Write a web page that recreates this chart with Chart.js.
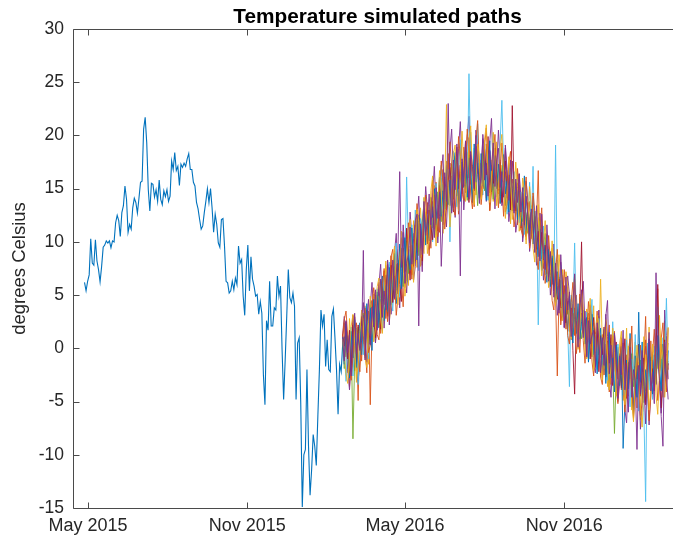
<!DOCTYPE html>
<html>
<head>
<meta charset="utf-8">
<script src="https://cdn.jsdelivr.net/npm/chart.js@4.4.1/dist/chart.umd.min.js"></script>
<style>
  html, body { margin: 0; padding: 0; background: #fff; overflow: hidden; width: 673px; height: 542px; }
  #wrap { width: 690px; height: 542px; position: absolute; left: 0; top: 0; }
  #c { width: 690px; height: 542px; display: block; }
</style>
</head>
<body>
<div id="wrap"><canvas id="c" width="690" height="542"></canvas></div>
<script>
// ---------- DATA (x in days since 1 May 2015) ----------
const chartTitle = 'Temperature simulated paths';
const yLabel     = 'degrees Celsius';
const tickDays   = [0, 184, 366, 550];
const tickLabels = ['May 2015', 'Nov 2015', 'May 2016', 'Nov 2016'];

// historical observed temperature, evenly spaced from histStartDay to histEndDay
const histStartDay = -4;   // 27 Apr 2015
const histEndDay   = 296;  // 21 Feb 2016
const histTemps = [
  6.2, 5.4, 6.3, 6.9, 10.3, 8.0, 7.8, 10.2, 8.2, 7.4,
  6.25, 7.7, 9.5, 9.7, 10.1, 9.9, 10.1, 9.45, 10.1, 10.0,
  11.8, 12.5, 12.0, 10.5, 12.75, 13.4, 15.25, 14.0, 10.9, 11.65,
  11.2, 13.2, 14.1, 13.7, 12.7, 14.1, 15.6, 15.7, 20.6, 21.7,
  19.3, 14.9, 12.9, 15.5, 15.4, 14.2, 14.9, 13.8, 15.8, 14.0,
  13.5, 14.8, 14.25, 14.9, 13.8, 14.3, 17.6, 16.8, 18.4, 16.7,
  17.1, 15.3, 17.3, 17.0, 17.4, 17.1, 17.8, 18.3, 16.8, 16.8,
  15.6, 15.25, 13.7, 13.1, 12.1, 11.2, 11.5, 12.75, 13.8, 15.0,
  13.7, 15.0, 13.2, 10.9, 12.6, 11.65, 9.9, 9.5, 12.1, 12.2,
  9.6, 6.3, 6.15, 5.2, 5.4, 6.3, 5.5, 6.6, 6.0, 9.6,
  8.0, 8.35, 4.9, 3.1, 7.4, 9.7, 5.4, 8.6, 6.5, 5.85,
  4.9, 5.05, 3.2, 4.4, 3.3, -2.5, -5.3, 2.6, 1.7, 6.3,
  2.1, 2.1, 3.8, 3.6, 6.8, 4.9, 5.85, -0.1, -4.8, -1.1,
  3.0, 7.4, 4.75, 4.3, 5.2, 3.95, -4.8, 0.5, 1.0, -5.1,
  -14.9, -10.0, -9.5, -2.0, -9.2, -13.8, -11.4, -8.1, -9.2, -11.0,
  -6.4, -2.0, 3.6, 2.1, 3.2, -1.7, 0.8, -2.0, -2.2, 3.0,
  3.7, 1.0, -2.0, -6.2, -1.5, -2.2, 0.5, 1.1
];

// simulated paths, one value every simStepDays days from simStartDay
const simStartDay = 294;   // 19 Feb 2016
const simStepDays = 2;

const simPath1 = [
  0.9, 2.4, -0.8, 1.2, -3.6, -1.0, 2.2, -2.1, 0.6, -4.9,
  1.8, -1.2, 2.9, 0.1, -2.3, 3.5, -5.3, 1.7, 4.8, 0.6,
  3.1, 6.2, 1.4, 4.4, 7.5, 2.8, 5.6, 3.0, 8.7, 5.2,
  4.6, 7.9, 5.1, 9.6, 6.3, 3.9, 8.4, 11.2, 7.0, 9.3,
  6.5, 10.8, 8.2, 12.4, 9.1, 11.0, 7.8, 12.9, 10.3, 13.7,
  12.0, 9.4, 13.8, 11.2, 15.6, 12.7, 10.9, 14.6, 16.8, 12.5,
  15.1, 18.3, 13.4, 16.2, 14.0, 17.6, 15.3, 12.6, 17.9, 15.8,
  18.9, 14.6, 16.5, 19.8, 15.4, 17.2, 13.3, 16.9, 18.6, 15.1,
  14.2, 17.8, 15.9, 19.2, 16.1, 13.0, 17.4, 14.9, 18.8, 16.3,
  14.5, 17.7, 15.2, 12.4, 16.6, 14.8, 17.3, 13.5, 15.9, 12.9,
  14.7, 11.6, 15.3, 13.2, 10.4, 14.1, 12.2, 10.9, 13.8, 11.3,
  12.5, 9.1, 11.9, 16.7, 8.4, 10.6, 7.5, 9.9, 8.1, 6.7,
  8.9, 6.0, 7.7, 4.9, -2.6, 5.2, 2.6, 6.9, 4.4, 1.8,
  4.7, 2.3, 0.8, 3.9, 1.2, 5.0, 2.0, -0.4, 3.3, 1.5,
  2.8, -0.7, 1.9, 4.1, 0.2, 2.4, -1.8, 1.0, 3.0, -0.9,
  1.3, -2.5, 0.4, -1.1, 2.2, -3.4, -0.3, 1.6, -2.0, 0.1,
  -1.4, -3.9, 0.5, -2.7, -0.6, -4.5, -1.8, 2.1, -3.0, -0.8,
  -5.6, -2.2, 0.3, -3.5, -1.0, 3.0, -4.2, -2.6, 0.7, -3.3,
  -1.2, 1.5, 5.6, -2.4, 0.4, -3.1, 2.6, -0.5, -2.0
];
const simPath2 = [
  1.2, -0.4, 1.9, -2.3, 2.8, 0.1, -1.7, 3.0, -3.2, 1.5,
  -0.8, 2.6, 0.4, 4.0, 1.1, -1.5, 3.4, 2.2, 5.1, 0.9,
  4.2, 2.0, 6.3, 3.7, 5.0, 8.2, 3.3, 6.1, 4.8, 7.4,
  5.7, 9.1, 6.6, 4.4, 8.7, 7.1, 10.2, 8.0, 5.9, 9.6,
  8.4, 12.0, 9.7, 7.6, 11.4, 13.2, 10.0, 8.9, 12.8, 11.1,
  13.5, 10.7, 12.6, 15.3, 11.8, 14.4, 12.0, 16.0, 13.7, 15.1,
  22.9, 14.6, 17.0, 13.9, 15.8, 18.1, 14.2, 16.9, 19.3, 15.5,
  17.6, 14.8, 18.4, 16.0, 20.3, 15.7, 17.1, 14.4, 18.7, 16.6,
  15.3, 19.0, 16.4, 14.1, 18.0, 15.6, 17.7, 13.8, 16.2, 19.4,
  15.0, 13.6, 17.2, 15.4, 18.6, 13.1, 16.0, 11.7, 15.5, 14.2,
  12.6, 16.3, 13.0, 11.1, 14.5, 12.9, 9.8, 13.6, 11.4, 10.3,
  13.1, 10.0, 8.8, 12.3, 9.5, 11.6, 8.0, 10.4, 7.2, 9.0,
  6.6, 9.4, 7.5, 5.5, 8.3, 6.1, 4.0, 7.4, 5.0, 3.1,
  5.8, 2.4, 4.6, 1.3, 6.5, 3.0, 0.7, 4.3, 2.1, 3.6,
  1.0, 3.7, -0.5, 2.6, 0.2, 4.0, -1.3, 1.8, -0.6, 6.5,
  0.4, -1.9, 2.3, -3.6, -0.4, 1.0, -2.8, 0.5, -4.4, -1.0,
  -2.2, 0.8, -4.9, -1.5, 1.9, -3.3, -0.7, -5.8, -2.0, 0.6,
  -3.9, -1.3, -6.7, -2.4, 1.1, -4.0, -1.6, 2.0, -2.9, -0.4,
  -3.5, 0.9, -1.9, 3.1, -0.3, -4.6, 1.7, -2.2, 0.5
];
const simPath3 = [
  1.2, 3.0, 0.6, -2.0, -3.9, -1.1, 1.7, 2.9, -0.4, -3.1,
  -1.0, 2.8, 4.3, 1.6, -1.3, 0.8, 4.0, 6.2, 3.0, 0.5,
  2.3, 6.0, 7.9, 4.1, 1.9, 4.4, 8.3, 7.0, 3.2, 5.1,
  9.0, 10.8, 6.5, 3.8, 7.2, 11.6, 9.3, 5.2, 8.4, 12.8,
  10.6, 6.4, 7.7, 12.0, 14.3, 10.1, 7.2, 11.8, 15.2, 13.0,
  9.3, 10.2, 14.6, 17.1, 13.0, 9.9, 12.4, 16.6, 18.2, 13.3,
  11.4, 15.0, 18.7, 20.6, 16.0, 12.3, 14.9, 18.8, 21.3, 17.4,
  13.0, 15.4, 19.9, 21.8, 17.6, 13.7, 16.0, 20.5, 18.9, 14.5,
  15.8, 20.1, 18.2, 13.8, 15.0, 19.4, 21.6, 16.5, 13.1, 16.9,
  20.5, 17.8, 13.4, 14.7, 18.8, 16.1, 11.9, 13.5, 17.6, 15.0,
  10.9, 12.1, 16.4, 14.2, 10.0, 11.5, 15.7, 13.9, 9.1, 10.7,
  14.3, 11.7, 7.8, 9.6, 12.7, 10.2, 6.4, 8.0, 11.6, 9.1,
  5.0, 6.6, 9.8, 7.2, 3.1, 4.8, 8.1, 6.0, 1.9, 3.4,
  6.8, 5.1, 1.2, 2.5, 6.0, 4.4, 0.2, 1.1, 4.9, 6.3,
  2.1, -0.9, 0.7, 4.0, 3.0, -1.6, -2.3, 1.7, 3.6, 0.2,
  -2.8, -0.7, 3.2, 1.1, -2.9, -4.6, -1.0, 1.4, -1.9, -5.0,
  -3.3, 0.1, -1.8, -5.7, -7.0, -2.7, 0.5, -2.5, -5.9, -3.6,
  -0.4, -3.1, -7.6, -5.4, -1.6, 0.2, -3.8, -7.2, -4.1, -1.1,
  -3.5, 0.7, 2.9, -2.6, -6.1, -3.3, 3.6, 1.2, -2.9
];
const simPath4 = [
  0.8, -1.9, 1.4, -0.3, -2.5, 1.0, -8.5, -1.2, 0.9, 2.0,
  -0.5, 1.7, 3.3, -0.9, 2.4, 0.5, 4.1, 1.8, 2.9, 5.0,
  2.2, 4.9, 3.1, 6.0, 2.9, 4.5, 7.2, 4.0, 6.4, 5.1,
  7.7, 5.0, 8.3, 6.2, 9.4, 5.8, 7.9, 10.1, 7.1, 8.5,
  10.7, 8.0, 9.9, 12.1, 8.7, 11.5, 9.6, 13.0, 11.0, 10.2,
  12.4, 14.1, 11.3, 13.0, 10.6, 14.7, 13.3, 11.9, 15.4, 14.0,
  13.2, 16.0, 14.8, 17.3, 14.1, 15.5, 17.9, 13.6, 16.4, 15.0,
  17.0, 15.8, 13.9, 18.2, 16.7, 14.5, 17.5, 15.9, 13.4, 17.8,
  16.0, 18.4, 14.8, 16.6, 15.1, 17.9, 16.3, 14.0, 17.1, 15.7,
  16.8, 14.3, 15.9, 17.6, 13.4, 16.2, 14.6, 15.1, 12.9, 15.8,
  13.6, 15.2, 12.4, 14.0, 11.9, 13.3, 12.6, 10.8, 12.1, 13.4,
  10.5, 11.8, 9.6, 10.9, 12.0, 8.9, 9.7, 10.8, 7.7, 8.3,
  7.9, 6.4, 8.6, 7.0, 5.1, 6.7, 5.6, 3.7, 4.9, 4.2,
  3.2, 4.5, 2.0, 3.9, 2.7, 1.5, 3.4, 2.2, 0.9, 2.6,
  1.6, 0.3, 2.9, 1.1, -0.8, 1.9, 0.5, -1.5, 1.3, 0.0,
  -1.1, 0.9, -2.3, -0.7, -3.9, 0.1, -1.6, -8.0, -2.5, -0.4,
  -1.9, -3.1, -0.6, -2.8, -4.2, -1.3, -2.9, -0.5, -3.6, -2.0,
  -4.3, -2.5, -1.1, -3.8, -2.2, -5.0, -1.4, -3.1, -0.8, -2.6,
  -1.7, -3.3, -0.4, -2.5, -1.0, -2.9, 0.2, -1.8, -1.2
];
const simPath5 = [
  1.0, -0.2, -3.1, 0.7, -1.4, 2.0, -2.6, 0.2, 1.9, -3.4,
  0.5, 2.1, -0.6, 3.9, 1.3, -1.0, 2.8, 4.4, 0.7, 3.2,
  5.6, 2.4, 4.0, 1.6, 6.7, 3.8, 5.3, 8.1, 4.9, 3.5,
  7.2, 9.9, 6.0, 4.8, 8.6, 10.6, 7.5, 16.1, 9.8, 8.0,
  11.6, 8.9, 13.0, 9.5, 7.3, 12.2, 10.8, 14.1, 10.0, 12.6,
  11.0, 13.8, 10.0, 12.9, 15.5, 11.4, 14.0, 17.2, 12.7, 15.9,
  14.6, 16.8, 10.0, 15.7, 18.5, 16.2, 13.3, 17.0, 19.6, 14.9,
  16.4, 19.0, 15.2, 25.8, 17.3, 14.9, 18.8, 16.0, 21.1, 15.3,
  17.7, 14.4, 19.3, 16.6, 13.9, 18.5, 15.4, 20.2, 16.9, 14.2,
  16.0, 19.4, 23.3, 17.0, 15.3, 12.6, 17.4, 15.9, 13.8, 16.6,
  13.1, 15.9, 11.8, 14.7, 13.0, 10.7, 14.2, 12.0, 15.6, 11.5,
  17.1, 9.4, 12.6, 2.2, 10.3, 8.4, 11.5, 6.9, 9.6, 7.6,
  7.1, 8.0, 5.9, 19.1, 6.3, 4.5, 7.8, 2.7, 5.6, 3.8,
  1.9, -3.6, 5.0, 3.3, 9.9, 2.4, 0.3, 4.8, 1.7, 3.5,
  0.6, 3.4, -1.2, 2.1, 4.6, -0.3, 1.5, -2.0, 2.8, 0.1,
  -1.5, 1.8, -0.8, -3.0, 0.9, -2.2, 2.5, -1.3, -4.0, 0.4,
  -2.7, -0.3, -4.4, -1.6, 0.8, -3.2, -5.5, -1.0, -2.4, 1.3,
  -3.0, -5.9, -1.7, -4.6, -6.0, -14.4, 0.5, -3.9, -1.2, -4.8,
  0.2, -2.6, 3.9, -1.4, -3.8, 1.0, -0.9, 4.7, -1.6
];
const simPath6 = [
  1.3, 0.2, 2.5, -1.0, 1.7, -2.2, 3.1, 0.3, -1.5, 2.2,
  0.0, 3.0, 1.2, -0.7, 3.6, 2.0, 0.4, 4.5, 2.6, 1.0,
  5.0, 3.4, 1.8, 5.8, 4.1, 6.9, 3.0, 5.5, 7.8, 4.3,
  6.8, 5.2, 8.0, 6.0, 4.4, 9.4, 7.2, 11.3, 8.6, 6.4,
  9.7, 7.7, 11.6, 9.0, 12.3, 10.4, 8.2, 13.2, 11.7, 9.8,
  13.0, 11.5, 10.2, 14.4, 12.6, 11.0, 15.3, 13.4, 11.6, 16.1,
  13.0, 15.6, 17.4, 14.3, 12.8, 16.6, 18.9, 15.0, 17.2, 14.5,
  16.9, 19.4, 15.6, 13.7, 18.2, 16.1, 14.8, 19.0, 17.0, 15.8,
  17.4, 15.0, 18.7, 16.3, 19.9, 14.6, 17.2, 15.5, 18.1, 16.0,
  14.8, 17.5, 13.7, 15.8, 17.6, 14.1, 16.3, 13.0, 22.8, 14.9,
  12.9, 15.5, 13.8, 11.3, 14.6, 12.1, 10.5, 13.7, 11.0, 12.8,
  10.2, 12.4, 9.3, 11.0, 8.7, 10.9, 8.3, 9.7, 7.0, 8.8,
  6.9, 8.5, 5.4, 7.3, 4.6, 6.5, 3.8, 3.9, 5.9, 2.4,
  4.4, 1.6, 3.8, -0.2, -4.3, 2.9, 1.1, 4.0, 10.0, 1.4,
  2.7, 0.8, 3.3, -1.0, 1.6, 2.9, -0.4, 2.0, -2.2, 1.2,
  -0.6, 2.0, -2.7, 0.7, -1.4, 1.3, -3.5, -0.8, 0.6, -2.9,
  -0.5, -3.7, -1.6, 0.9, -4.7, -2.4, -0.1, -3.4, -6.2, -1.7,
  -2.9, 0.4, -4.5, -2.3, -0.9, -5.3, -2.7, 0.6, -3.5, -1.9,
  -4.0, -0.4, 6.0, -2.8, -5.6, -1.1, 0.8, -3.6, -1.4
];
const simPath7 = [
  1.1, -1.5, 2.3, 0.4, -2.8, 1.6, -0.9, 2.7, -1.8, 0.3,
  2.4, -0.6, 3.1, 0.8, 4.2, 1.5, 3.8, -0.2, 4.6, 2.1,
  5.3, 1.9, 4.7, 6.8, 2.6, 5.9, 3.4, 7.6, 4.1, 6.5,
  8.9, 4.2, 7.3, 9.8, 5.6, 8.1, 10.4, 6.2, 9.0, 7.4,
  11.3, 7.9, 10.6, 8.3, 12.5, 9.4, 11.8, 13.6, 9.7, 12.2,
  10.1, 14.2, 12.3, 15.0, 11.6, 13.9, 16.1, 12.4, 14.8, 13.1,
  17.2, 13.5, 15.8, 12.9, 16.7, 18.4, 14.3, 16.0, 13.8, 17.5,
  15.1, 18.6, 14.2, 17.9, 16.3, 13.7, 19.2, 15.6, 17.4, 14.1,
  18.3, 15.2, 17.6, 13.9, 16.8, 19.5, 14.7, 16.2, 18.1, 15.0,
  17.3, 13.6, 16.4, 18.2, 14.5, 15.7, 12.8, 16.9, 14.0, 13.2,
  15.6, 12.1, 14.8, 11.5, 13.9, 16.2, 11.0, 13.4, 10.6, 12.7,
  9.8, 12.9, 10.4, 8.6, 11.2, 7.3, 10.1, 8.4, 6.2, 9.3,
  5.8, 8.7, 6.1, 4.3, 7.2, 3.6, 6.4, 2.9, 5.1, 3.3,
  1.6, 4.9, 2.7, 0.5, 3.8, 1.4, 4.2, 0.9, 2.5, 3.6,
  0.4, 2.9, -1.3, 1.7, 3.2, -0.6, 1.1, -2.4, 0.8, 1.9,
  -2.1, 0.6, -3.3, -0.2, 1.5, -2.8, -0.9, -4.1, 0.3, -1.6,
  -3.5, 0.2, -9.4, -5.2, -1.1, -3.8, 1.4, -2.3, -6.4, -0.7,
  -4.6, 3.4, -3.2, 0.6, -5.1, -2.0, -3.7, 0.9, -2.5, -4.3,
  -0.6, -3.4, 1.2, -2.2, -4.0, 0.4, -1.5, -3.1, -0.2
];
const simPath8 = [
  1.0, 2.7, 3.5, 1.1, -1.9, -3.0, -0.7, 1.8, 2.4, -1.1,
  -2.2, 0.9, 2.6, 3.8, 2.0, -0.4, 0.3, 3.9, 5.7, 4.2,
  1.3, 0.8, 3.5, 6.1, 7.3, 4.6, 2.5, 5.2, 8.6, 9.3,
  6.6, 3.1, 4.8, 8.2, 10.4, 9.1, 5.7, 7.3, 11.8, 10.2,
  6.9, 7.8, 11.4, 13.6, 12.0, 8.5, 9.1, 12.7, 14.4, 10.9,
  8.7, 12.3, 15.8, 14.0, 11.1, 10.5, 14.9, 17.6, 15.3, 11.2,
  13.0, 16.8, 19.4, 17.1, 13.2, 12.5, 16.1, 19.9, 18.0, 14.6,
  13.9, 17.5, 20.6, 18.2, 14.4, 13.1, 16.8, 19.6, 21.4, 17.0,
  13.5, 15.2, 19.0, 20.7, 16.4, 12.9, 14.6, 18.3, 20.1, 15.9,
  13.2, 16.5, 19.3, 17.0, 12.8, 13.6, 17.4, 18.5, 14.1, 11.4,
  12.7, 16.9, 15.0, 11.2, 10.6, 14.3, 16.1, 12.5, 9.4, 10.8,
  14.6, 12.8, 8.7, 7.4, 11.0, 13.2, 9.0, 6.1, 7.9, 10.6,
  8.2, 4.5, 3.6, 7.1, 9.3, 5.8, 2.2, 3.9, 7.4, 5.0,
  1.2, 0.4, 4.3, 6.2, 3.4, -0.5, 1.0, 5.1, 4.0, 0.7,
  -1.4, 1.6, 4.4, 2.3, -1.2, -2.6, 1.3, 3.5, 0.6, -2.7,
  -3.4, 0.2, 2.5, -0.6, -4.1, -2.3, 1.2, 0.0, -3.8, -5.2,
  -1.5, 1.0, -2.9, -6.0, -4.3, -0.2, 0.9, -3.2, -6.6, -4.0,
  -0.9, -2.7, -6.3, -5.1, -1.4, 0.8, -2.9, -6.8, -4.6, -0.5,
  1.8, -1.6, -4.9, -3.0, 0.9, 2.4, -2.0, -4.1, 1.9
];
const simPath9 = [
  0.9, -0.6, -2.4, -3.3, -0.8, 2.1, 3.2, 0.4, -2.9, -1.6,
  1.5, 3.6, 2.2, -0.9, -1.8, 2.4, 4.9, 3.1, 0.6, 1.9,
  5.8, 6.6, 2.9, 1.4, 4.7, 7.8, 6.3, 2.6, 3.9, 8.1,
  9.6, 5.5, 4.1, 7.9, 11.0, 8.7, 4.9, 6.4, 10.3, 12.1,
  8.6, 6.2, 9.8, 13.1, 11.9, 7.7, 10.0, 14.2, 12.6, 8.9,
  10.4, 14.8, 16.2, 12.1, 9.6, 13.4, 16.7, 14.5, 10.8, 12.9,
  17.6, 15.2, 11.4, 13.8, 18.3, 19.1, 14.7, 12.9, 16.5, 20.4,
  17.3, 13.8, 15.6, 19.5, 20.9, 16.2, 13.5, 15.8, 19.2, 18.1,
  14.0, 15.3, 19.6, 21.0, 16.8, 13.7, 16.1, 20.3, 17.5, 13.4,
  14.9, 18.9, 20.1, 15.7, 12.2, 14.6, 18.0, 16.4, 12.1, 13.9,
  17.5, 15.1, 11.0, 12.4, 16.0, 14.8, 10.2, 11.7, 15.2, 13.3,
  9.4, 8.1, 12.2, 13.5, 9.2, 6.8, 9.9, 12.0, 8.5, 5.7,
  7.3, 10.1, 7.9, 4.0, 5.2, 8.8, 6.7, 2.6, 3.5, 7.2,
  5.9, 1.8, 0.9, 4.6, 6.9, 3.2, -0.1, 2.0, 5.4, 3.7,
  -0.2, -1.0, 2.8, 4.7, 1.4, -2.1, -0.4, 3.1, 2.4, -1.5,
  -3.0, 0.6, 2.7, -0.8, -3.9, -1.7, 1.9, -0.3, -4.5, -3.4,
  0.4, 1.6, -2.4, -5.3, -3.0, 0.2, -1.2, -5.1, -6.9, -2.6,
  0.3, -1.9, -5.5, -7.4, -3.3, -0.6, -2.2, -5.8, -3.7, 0.4,
  -0.8, -4.4, -6.2, -2.1, 1.0, -0.9, -4.6, -2.8, 2.0
];
const simPath10 = [
  1.1, -1.2, 2.6, -0.4, 1.3, -2.6, 0.8, 3.3, -0.5, 1.4,
  -0.2, 0.7, 9.2, -1.1, 2.8, 4.6, 0.3, 3.9, 2.0, 5.5,
  1.7, 4.3, 6.5, 2.9, 5.4, 3.6, 7.9, 2.2, 6.0, 8.3,
  4.7, 6.9, 9.4, 16.6, 7.6, 10.9, 6.1, 8.0, 8.8, 11.4,
  7.9, 10.3, 12.0, 12.6, 2.1, 11.7, 8.8, 13.8, 10.6, 12.1,
  14.5, 11.6, 13.3, 10.4, 15.1, 12.2, 14.7, 7.7, 11.9, 16.5,
  13.8, 23.0, 15.4, 12.7, 17.7, 14.9, 19.2, 16.1, 6.8, 17.8,
  15.2, 19.5, 16.4, 14.0, 18.5, 17.1, 15.0, 20.0, 16.3, 13.6,
  16.9, 19.7, 15.8, 17.4, 14.3, 18.6, 16.7, 19.3, 15.2, 17.7,
  18.8, 15.1, 16.6, 14.2, 19.1, 16.8, 13.9, 17.7, 15.0, 12.7,
  15.9, 13.7, 16.4, 12.8, 15.1, 11.6, 14.3, 12.4, 9.9, 13.1,
  11.3, 9.0, 13.4, 10.1, 8.2, 12.6, 9.1, 7.4, 10.7, 6.3,
  9.1, 7.0, 4.8, 8.0, 5.9, 3.3, 8.8, 5.4, 2.0, 6.7,
  3.6, 5.3, 1.1, 4.2, 7.0, 2.6, 0.1, 3.8, 5.5, 1.0,
  3.5, -0.8, 2.6, 0.4, 1.2, 1.7, -1.7, 2.4, 0.9, -2.3,
  1.0, -1.6, 3.0, 4.5, -2.4, 0.3, -3.2, 1.4, -1.0, -4.7,
  -0.7, -2.5, 1.7, -3.9, -1.4, -6.0, 0.1, -4.6, -2.0, -3.0,
  -9.5, -1.6, -4.3, -0.2, -3.6, -7.1, -1.8, 1.5, -4.0, -2.2,
  -5.2, 7.1, -0.9, -3.0, -6.4, -9.2, 0.6, -2.5, -4.8
];

const simPaths  = [simPath1, simPath2, simPath3, simPath4, simPath5,
                   simPath6, simPath7, simPath8, simPath9, simPath10];
const simColors = ['#D95319', '#EDB120', '#7E2F8E', '#77AC30', '#4DBEEE',
                   '#A2142F', '#0072BD', '#D95319', '#EDB120', '#7E2F8E'];
const histColor = '#0072BD';

// ---------- CHART ----------
const FONT = "'Liberation Sans', Arial, Helvetica, sans-serif";
Chart.defaults.font.family = FONT;
Chart.defaults.color = '#262626';

const histStep = (histEndDay - histStartDay) / (histTemps.length - 1);
const datasets = [{
  data: histTemps.map((v, i) => ({ x: histStartDay + i * histStep, y: v })),
  borderColor: histColor, borderWidth: 1.1, order: 0
}];
simPaths.forEach((p, k) => {
  datasets.push({
    data: p.map((v, i) => ({ x: simStartDay + i * simStepDays, y: v })),
    borderColor: simColors[k], borderWidth: 0.9, order: -(k + 1)
  });
});
datasets.forEach(d => { d.pointRadius = 0; d.tension = 0; d.fill = false; });

// MATLAB-style axes: left/top/bottom lines with inward ticks (right side lies beyond the picture)
const axesBox = {
  id: 'axesBox',
  afterDatasetsDraw(chart) {
    const { ctx, chartArea: a, scales: { x, y } } = chart;
    const L = Math.round(a.left) + 0.5, R = Math.round(a.right) + 0.5;
    const T = Math.round(a.top) + 0.5, B = Math.round(a.bottom) + 0.5;
    const tl = 6;
    ctx.save();
    ctx.strokeStyle = '#4a4a4a';
    ctx.lineWidth = 1;
    ctx.beginPath();
    ctx.moveTo(R, T); ctx.lineTo(L, T); ctx.lineTo(L, B); ctx.lineTo(R, B);
    y.ticks.forEach(t => {
      const py = Math.round(y.getPixelForValue(t.value)) + 0.5;
      ctx.moveTo(L, py); ctx.lineTo(L + tl, py);
    });
    x.ticks.forEach(t => {
      const px = Math.round(x.getPixelForValue(t.value)) + 0.5;
      ctx.moveTo(px, B); ctx.lineTo(px, B - tl);
      ctx.moveTo(px, T); ctx.lineTo(px, T + tl);
    });
    ctx.stroke();
    // title centred over the axes box
    ctx.fillStyle = '#000';
    ctx.font = 'bold 20.8px ' + FONT;
    ctx.textAlign = 'center';
    ctx.textBaseline = 'alphabetic';
    ctx.fillText(chartTitle, (a.left + a.right) / 2, 23);
    ctx.restore();
  }
};

new Chart(document.getElementById('c'), {
  type: 'line',
  data: { datasets },
  plugins: [axesBox],
  options: {
    responsive: false,
    animation: false,
    devicePixelRatio: 1,
    layout: { padding: { left: 0, right: 8, top: 29, bottom: 0 } },
    plugins: {
      legend: { display: false },
      tooltip: { enabled: false },
      title: { display: false }
    },
    scales: {
      x: {
        type: 'linear',
        min: -17.3, max: 686,
        afterBuildTicks: s => { s.ticks = tickDays.map(v => ({ value: v })); },
        afterFit: s => { s.height = 34; },
        grid: { display: false, drawTicks: false },
        border: { display: false },
        ticks: {
          autoSkip: false, maxRotation: 0, padding: 7,
          font: { size: 18 }, color: '#262626',
          callback: v => tickLabels[tickDays.indexOf(v)]
        }
      },
      y: {
        min: -15, max: 30,
        ticks: { stepSize: 5, padding: 9, font: { size: 17.5 }, color: '#262626' },
        afterFit: s => { s.width = 73; },
        grid: { display: false, drawTicks: false },
        border: { display: false },
        title: {
          display: true, text: yLabel, color: '#262626',
          font: { size: 18.5 }, padding: { top: 9, bottom: 0 }
        }
      }
    }
  }
});
</script>
</body>
</html>
